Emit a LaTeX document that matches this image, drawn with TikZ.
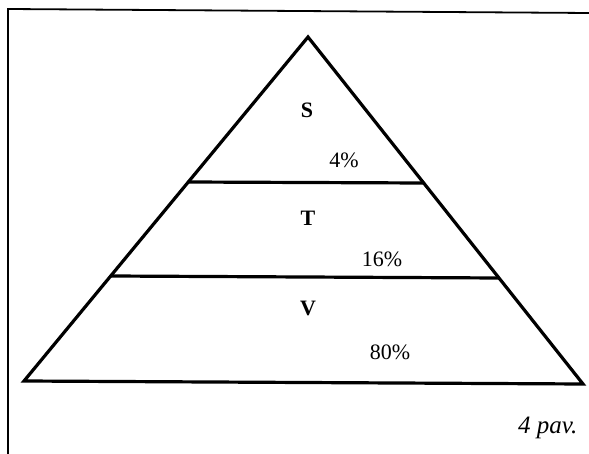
\documentclass[tikz,border=0pt]{standalone}
\usepackage{fontspec}
\setmainfont{Liberation Serif}
\begin{document}
\begin{tikzpicture}[x=1pt,y=-1pt,
  edge/.style={line width=3.2pt,line join=miter},
  lab/.style={font=\fontsize{22}{26}\selectfont\bfseries},
  pct/.style={font=\fontsize{22}{26}\selectfont}]
\useasboundingbox (0,0) rectangle (589,454);
\coordinate (fl) at (8,454);
\coordinate (ft) at (8,9);
\coordinate (fr) at (589,13);
\draw[line width=1.8pt] (fl) -- (ft) -- (fr);
\coordinate (apex) at (308,37);
\coordinate (bl) at (24,381);
\coordinate (br) at (583,384);
\draw[edge] (apex) -- (bl) -- (br) -- cycle;
\coordinate (l1a) at (188,182);
\coordinate (l1b) at (423,183);
\draw[edge] (l1a) -- (l1b);
\coordinate (l2a) at (111,276);
\coordinate (l2b) at (499,278);
\draw[edge] (l2a) -- (l2b);
\node[lab] (s) at (307,110) {S};
\node[pct] (p4) at (344,160) {4\%};
\node[lab] (t) at (308,218) {T};
\node[pct] (p16) at (382,259) {16\%};
\node[lab] (v) at (308,308) {V};
\node[pct] (p80) at (390,352) {80\%};
\node[font=\fontsize{25}{30}\selectfont\itshape,anchor=base east] (pav) at (581,433) {4 pav.};
\end{tikzpicture}
\end{document}
